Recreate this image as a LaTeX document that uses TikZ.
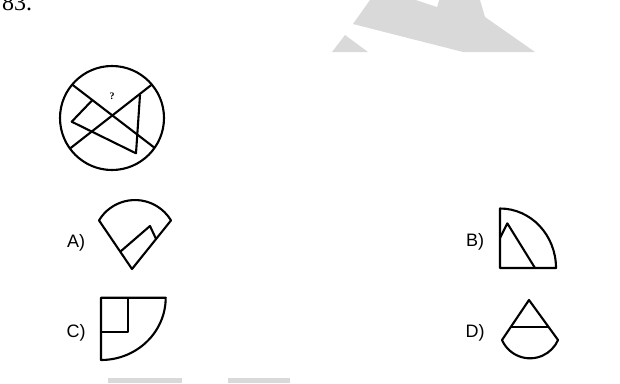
\documentclass[tikz,border=0pt]{standalone}
\usepackage{fontspec}
\setmainfont{Liberation Serif}
\newfontfamily\optfont{Liberation Sans}
\usetikzlibrary{calc}
\definecolor{wmgray}{gray}{0.85}
\tikzset{
  fig/.style={line width=2.1pt, line join=round},
  optlabel/.style={font=\optfont\fontsize{18}{18}\selectfont, inner sep=0pt},
}

\begin{document}
\begin{tikzpicture}[x=1pt, y=1pt, yscale=-1]
  \useasboundingbox (0,0) rectangle (620,383);

  % watermark
  \fill[wmgray] (353,24) -- (370,0) -- (480,0) -- (485,17) -- (535,52) -- (463,52) -- cycle;
  \fill[white] (416,0) -- (437,7) -- (439,0) -- cycle;
  \fill[wmgray] (345,35) -- (332,52) -- (368,52) -- cycle;
  \fill[wmgray] (108,378) rectangle (182,383);
  \fill[wmgray] (228,378) rectangle (290,383);

  % question number
  \node[anchor=base west, font=\fontsize{24}{24}\selectfont, inner sep=0pt] (qno) at (2,10) {83.};

  % question figure
  \coordinate (O) at (112,118);
  \draw[fig] (O) circle (52);
  \coordinate (q-l1s) at ($(O)+(220:52)$);
  \coordinate (q-l1e) at ($(O)+(35:52)$);
  \coordinate (q-l2s) at ($(O)+(144:52)$);
  \coordinate (q-l2e) at ($(O)+(320:52)$);
  \draw[fig] (q-l1s) -- (q-l1e);
  \draw[fig] (q-l2s) -- (q-l2e);
  \coordinate (q-p) at (92,100.5);
  \coordinate (q-left) at (71.7,121.7);
  \coordinate (q-bot) at (136,153.3);
  \coordinate (q-top) at (140,95);
  \draw[fig] (q-p) -- (q-left) -- (q-bot) -- (q-top);
  \node[font=\bfseries\fontsize{10}{10}\selectfont, inner sep=0pt] (qmark) at (112,96.5) {?};

  % option A
  \node[optlabel] (labA) at (76,243) {A)};
  \coordinate (A-apex) at (132,269);
  \coordinate (A-l) at (99,220.4);
  \coordinate (A-r) at (171,220.4);
  \draw[fig] (A-apex) -- (A-l) arc[start angle=-149, end angle=-31, radius=42] -- cycle;
  \draw[fig] ($(A-l)!0.644!(A-apex)$) -- (150,226) -- ($(A-r)!0.383!(A-apex)$);

  % option B
  \node[optlabel] (labB) at (475,242) {B)};
  \coordinate (B-tl) at (500,208.5);
  \coordinate (B-bl) at (500,268);
  \coordinate (B-br) at (556,268);
  \draw[fig] (B-bl) -- (B-tl) arc[start angle=-90, end angle=0, x radius=56, y radius=59.5] -- cycle;
  \draw[fig] (500,238) -- (507.3,223.3) -- (535,268);

  % option C
  \node[optlabel] (labC) at (76,333) {C)};
  \coordinate (C-tl) at (101,297.7);
  \coordinate (C-tr) at (165.7,297.7);
  \coordinate (C-bl) at (101,360);
  \draw[fig] (C-tl) -- (C-tr) arc[start angle=0, end angle=90, x radius=64.7, y radius=62.3] -- cycle;
  \draw[fig] (127.7,297.7) -- (127.7,331.7) -- (101,331.7);

  % option D
  \node[optlabel] (labD) at (475,333) {D)};
  \coordinate (D-apex) at (529,300);
  \coordinate (D-l) at (502,340);
  \coordinate (D-r) at (558,340);
  \draw[fig] (D-apex) -- (D-l) arc[start angle=156.3, end angle=23.7, radius=30.6] -- cycle;
  \draw[fig] ($(D-apex)!0.675!(D-l)$) -- ($(D-apex)!0.675!(D-r)$);
\end{tikzpicture}
\end{document}
